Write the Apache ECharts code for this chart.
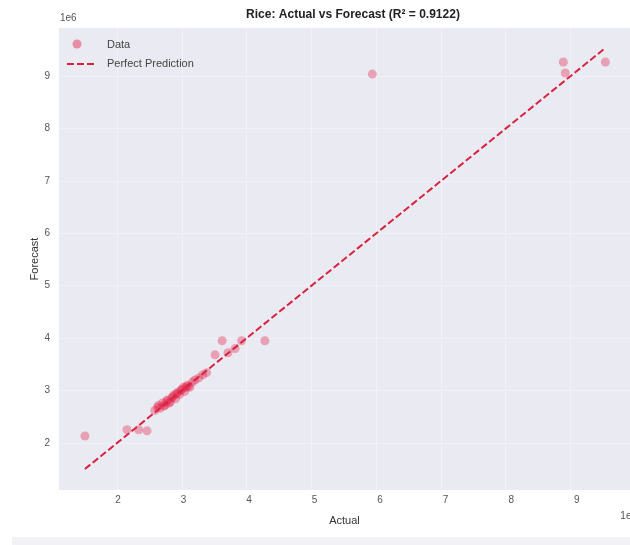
<!DOCTYPE html>
<html>
<head>
<meta charset="utf-8">
<script src="https://cdn.jsdelivr.net/npm/echarts@6/dist/echarts.min.js"></script>
<style>
  html, body { margin: 0; padding: 0; background: #fff; }
  #chart { width: 630px; height: 545px; }
</style>
</head>
<body>
<div id="chart"></div>
<script>
// values in units of 1e6
const actual = [1.50, 2.15, 2.33, 2.46, 2.58, 2.62, 2.64, 2.66, 2.70, 2.72, 2.74, 2.76, 2.78, 2.80, 2.82, 2.84, 2.86, 2.88, 2.90, 2.92, 2.93, 2.96, 2.98, 3.00, 3.02, 3.04, 3.06, 3.08, 3.10, 3.12, 3.16, 3.20, 3.26, 3.32, 3.38, 3.51, 3.62, 3.71, 3.82, 3.92, 4.28, 5.94, 8.89, 8.92, 9.54];
const forecast = [2.13, 2.25, 2.25, 2.23, 2.62, 2.68, 2.72, 2.66, 2.76, 2.70, 2.72, 2.80, 2.82, 2.76, 2.78, 2.86, 2.88, 2.92, 2.84, 2.94, 2.96, 2.92, 3.00, 3.02, 3.06, 2.98, 3.06, 3.10, 3.08, 3.06, 3.16, 3.20, 3.24, 3.30, 3.34, 3.68, 3.95, 3.72, 3.80, 3.95, 3.95, 9.04, 9.27, 9.06, 9.27];
const lineEnds = [1.50, 9.52];
const ticks = [2, 3, 4, 5, 6, 7, 8, 9];

const chart = echarts.init(document.getElementById('chart'));
const font = 'Liberation Sans, Arial, sans-serif';

// plot box, used for the tick labels that sit outside the grid
const L = 59, T = 28, W = 578, H = 462, MIN = 1.1, MAX = 9.92;
const px = v => L + (v - MIN) * W / (MAX - MIN);
const py = v => T + (MAX - v) * H / (MAX - MIN);

const option = {
  backgroundColor: '#ffffff',
  animation: false,
  title: {
    text: 'Rice: Actual vs Forecast (R\u00b2 = 0.9122)',
    left: 348, top: 4, textAlign: 'center',
    textStyle: { fontFamily: font, fontSize: 12, fontWeight: 'bold', color: '#222' }
  },
  grid: { left: L, right: 630 - L - W, top: T, bottom: 545 - T - H, backgroundColor: '#eaeaf2', show: true, borderWidth: 0 },
  xAxis: {
    type: 'value', min: MIN, max: MAX,
    name: 'Actual', nameLocation: 'middle', nameGap: 25,
    nameTextStyle: { fontFamily: font, fontSize: 11, color: '#333' },
    axisLine: { show: false }, axisTick: { show: false },
    axisLabel: { show: false },
    splitLine: { show: false }
  },
  yAxis: {
    type: 'value', min: MIN, max: MAX,
    name: 'Forecast', nameLocation: 'middle', nameGap: 19,
    nameTextStyle: { fontFamily: font, fontSize: 11, color: '#333' },
    axisLine: { show: false }, axisTick: { show: false },
    axisLabel: { show: false },
    splitLine: { show: false }
  },
  series: [
    {
      // faint grid lines at the ticks
      type: 'line', silent: true, data: [], z: 1,
      markLine: {
        silent: true, symbol: 'none', animation: false, z: 1,
        lineStyle: { color: '#f1f1f6', width: 1, type: 'solid' },
        label: { show: false },
        data: ticks.map(t => ({ xAxis: t })).concat(ticks.map(t => ({ yAxis: t })))
      }
    },
    {
      name: 'Data', type: 'scatter', symbolSize: 9,
      itemStyle: { color: 'rgba(228, 30, 70, 0.45)' },
      data: actual.map((a, i) => [a, forecast[i]]),
      z: 3
    },
    {
      name: 'Perfect Prediction', type: 'line', symbol: 'none',
      lineStyle: { color: '#d8223f', width: 2, type: [7, 3] },
      data: lineEnds.map(v => [v, v]),
      z: 4
    }
  ],
  graphic: [
    ...ticks.map(t => ({
      type: 'text', z: 10,
      style: { text: String(t), fontFamily: font, fontSize: 10, fill: '#555', textAlign: 'right', textVerticalAlign: 'middle' },
      position: [50, py(t)]
    })),
    ...ticks.map(t => ({
      type: 'text', z: 10,
      style: { text: String(t), fontFamily: font, fontSize: 10, fill: '#555', textAlign: 'center', textVerticalAlign: 'middle' },
      position: [px(t), 500]
    })),
    { type: 'text', left: 60, top: 13, style: { text: '1e6', fontFamily: font, fontSize: 10, fill: '#555' } },
    { type: 'text', style: { text: '1e6', fontFamily: font, fontSize: 10, fill: '#555', textAlign: 'right', textVerticalAlign: 'middle' }, position: [637, 516] },
    // legend
    { type: 'circle', z: 10, shape: { cx: 77, cy: 44, r: 4.5 }, style: { fill: 'rgba(228, 30, 70, 0.45)' } },
    { type: 'line', z: 10, shape: { x1: 67, y1: 64, x2: 95, y2: 64 }, style: { stroke: '#d8223f', lineWidth: 2, lineDash: [7, 3] } },
    { type: 'text', z: 10, style: { text: 'Data', fontFamily: font, fontSize: 11, fill: '#444', textVerticalAlign: 'middle' }, position: [107, 45] },
    { type: 'text', z: 10, style: { text: 'Perfect Prediction', fontFamily: font, fontSize: 11, fill: '#444', textVerticalAlign: 'middle' }, position: [107, 64] },
    { type: 'rect', shape: { x: 12, y: 537, width: 618, height: 8 }, style: { fill: '#f1f1f6' } }
  ]
};

chart.setOption(option);
</script>
</body>
</html>
